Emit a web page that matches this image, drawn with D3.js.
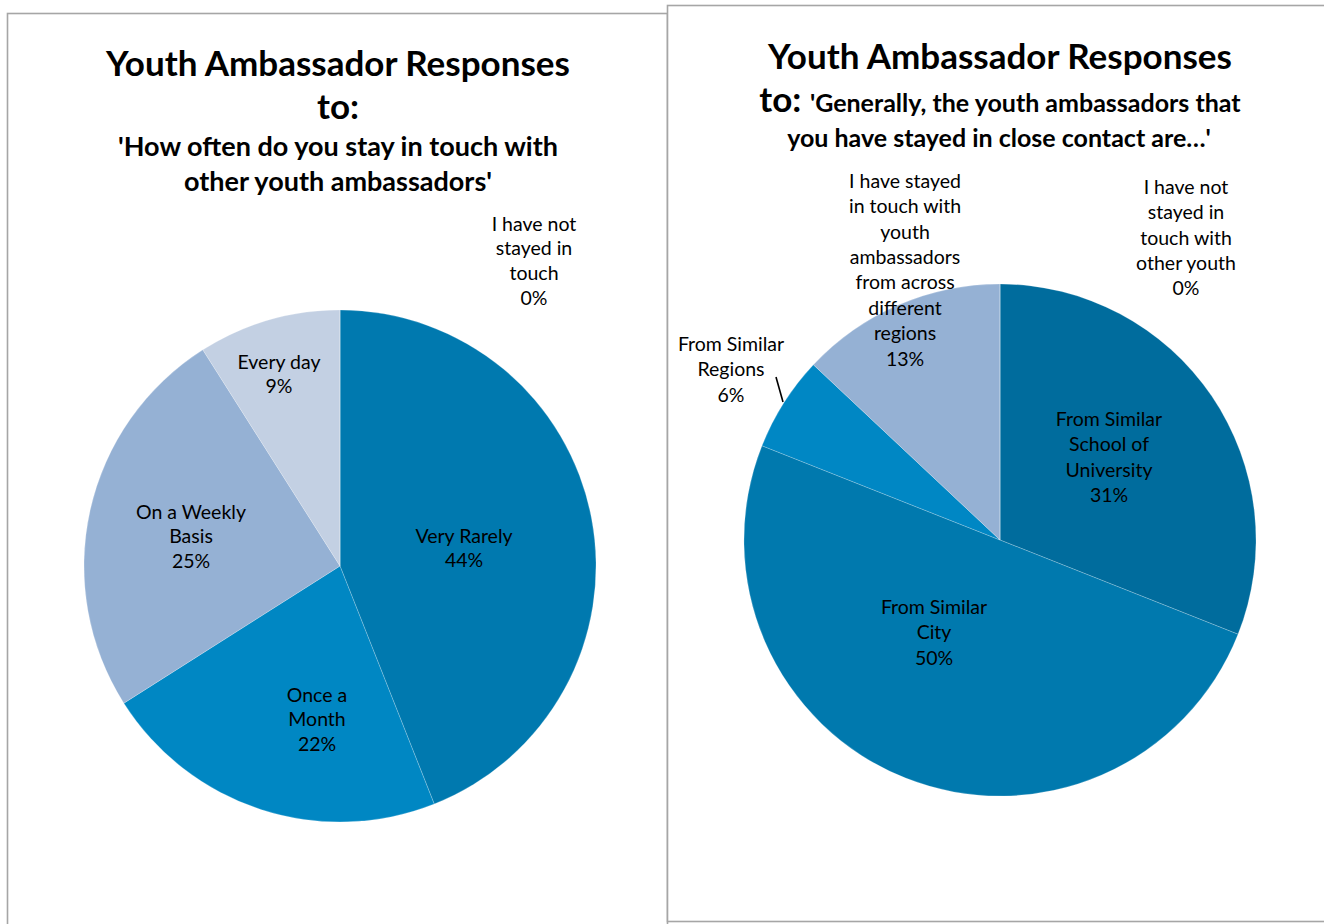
<!DOCTYPE html>
<html>
<head>
<meta charset="utf-8">
<script src="https://cdn.jsdelivr.net/npm/d3@7/dist/d3.min.js"></script>
<style>
  html, body { margin: 0; padding: 0; background: #fff; }
  svg { display: block; }
  text { font-family: Lato, "Open Sans", sans-serif; fill: #000; }
</style>
</head>
<body>
<svg id="chart" width="1324" height="924"></svg>
<script>
// Left chart: how often ambassadors stay in touch
const freqCategories = ["Very Rarely", "Once a\nMonth", "On a Weekly\nBasis", "Every day", "I have not\nstayed in\ntouch"];
const freqValues = [44, 22, 25, 9, 0];
const freqColors = ["#0079AF", "#0087C3", "#95B1D4", "#C3D0E3", "#DCE4EF"];

// Right chart: who they stayed in close contact with
const contactCategories = ["From Similar\nSchool of\nUniversity", "From Similar\nCity", "From Similar\nRegions", "I have stayed\nin touch with\nyouth\nambassadors\nfrom across\ndifferent\nregions", "I have not\nstayed in\ntouch with\nother youth"];
const contactValues = [31, 50, 6, 13, 0];
const contactColors = ["#006C9D", "#0079AE", "#0087C4", "#95B1D4", "#DCE4EF"];

// Label anchor offsets (dx, dy from pie centre to first line) for each slice
const freqLabelPos = [[124, -30], [-23, 129], [-149, -54], [-61, -204], [194, -342]];
const contactLabelPos = [[109, -121], [-66, 67], [-269, -196], [-95, -359], [186, -353]];

const svg = d3.select("#chart");

// Panel frames
svg.append("rect").attr("x", 7.5).attr("y", 13.5).attr("width", 660).attr("height", 940)
  .attr("fill", "#fff").attr("stroke", "#A6A6A6").attr("stroke-width", 1.6);
svg.append("rect").attr("x", 667.5).attr("y", 5.5).attr("width", 680).attr("height", 916)
  .attr("fill", "#fff").attr("stroke", "#A6A6A6").attr("stroke-width", 1.6);

const radius = 256;

function drawPie(cx, cy, cats, vals, colors, labelPos, lineHeight) {
  const g = svg.append("g").attr("transform", `translate(${cx},${cy})`);
  const pie = d3.pie().sort(null).value(d => d)(vals);
  const arc = d3.arc().innerRadius(0).outerRadius(radius);
  g.selectAll("path.slice").data(pie).join("path")
    .attr("class", "slice")
    .attr("d", arc)
    .attr("fill", (d, i) => colors[i])
    .attr("stroke", "#ffffff")
    .attr("stroke-opacity", 0.35)
    .attr("stroke-width", 0.6);

  pie.forEach((d, i) => {
    const lines = cats[i].split("\n").concat([vals[i] + "%"]);
    const t = g.append("text")
      .attr("text-anchor", "middle")
      .attr("font-size", 19.5);
    lines.forEach((ln, k) => {
      t.append("tspan")
        .attr("x", labelPos[i][0])
        .attr("y", labelPos[i][1] + k * lineHeight)
        .attr("dy", "0.35em")
        .text(ln);
    });
  });
  return g;
}

drawPie(340, 566, freqCategories, freqValues, freqColors, freqLabelPos, 24.6);
const right = drawPie(1000, 540, contactCategories, contactValues, contactColors, contactLabelPos, 25.4);

// Leader line for the small "From Similar Regions" slice
right.append("line")
  .attr("x1", 776 - 1000).attr("y1", 377 - 540)
  .attr("x2", 783 - 1000).attr("y2", 402 - 540)
  .attr("stroke", "#000").attr("stroke-width", 1.6);

// Titles
const leftTitle = svg.append("g");
leftTitle.append("text").attr("x", 338).attr("y", 76).attr("text-anchor", "middle")
  .attr("font-size", 35).attr("font-weight", "bold").text("Youth Ambassador Responses");
leftTitle.append("text").attr("x", 338).attr("y", 119).attr("text-anchor", "middle")
  .attr("font-size", 35).attr("font-weight", "bold").text("to:");
leftTitle.append("text").attr("x", 338).attr("y", 156).attr("text-anchor", "middle")
  .attr("font-size", 27).attr("font-weight", "bold").text("'How often do you stay in touch with");
leftTitle.append("text").attr("x", 338).attr("y", 191).attr("text-anchor", "middle")
  .attr("font-size", 27).attr("font-weight", "bold").text("other youth ambassadors'");

const rightTitle = svg.append("g");
rightTitle.append("text").attr("x", 1000).attr("y", 69).attr("text-anchor", "middle")
  .attr("font-size", 35).attr("font-weight", "bold").text("Youth Ambassador Responses");
const sub = rightTitle.append("text").attr("x", 1000).attr("y", 112).attr("text-anchor", "middle")
  .attr("font-weight", "bold");
sub.append("tspan").attr("font-size", 35).text("to: ");
sub.append("tspan").attr("font-size", 25).text("'Generally, the youth ambassadors that");
rightTitle.append("text").attr("x", 999).attr("y", 147).attr("text-anchor", "middle")
  .attr("font-size", 25).attr("font-weight", "bold").text("you have stayed in close contact are…'");
</script>
</body>
</html>
